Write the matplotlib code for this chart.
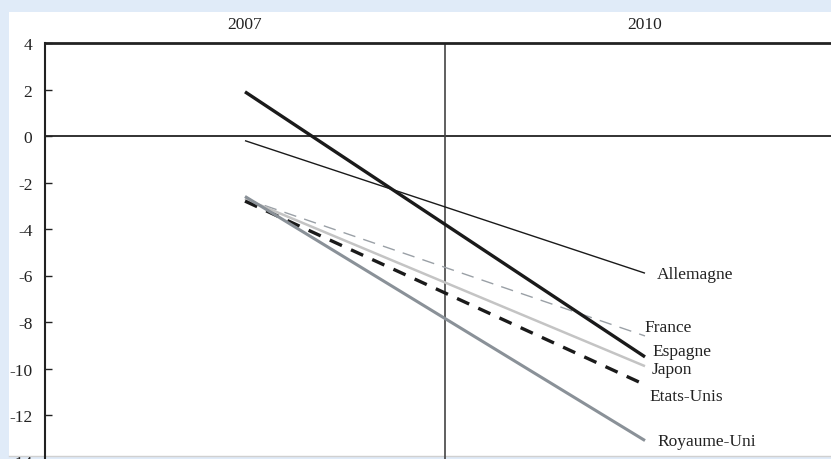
import matplotlib
matplotlib.use("Agg")
import matplotlib.pyplot as plt
from matplotlib.patches import Rectangle
from matplotlib.lines import Line2D

# ---- data ----
years = [2007, 2010]
countries = ["Allemagne", "France", "Espagne", "Japon", "Etats-Unis", "Royaume-Uni"]
allemagne = [-0.2, -5.9]
france = [-2.7, -8.6]
espagne = [1.9, -9.5]
japon = [-2.7, -9.9]
etats_unis = [-2.8, -10.7]
royaume_uni = [-2.6, -13.1]
yticks = [4, 2, 0, -2, -4, -6, -8, -10, -12, -14]
xtick_labels = ["2007", "2010"]

series = [allemagne, france, espagne, japon, etats_unis, royaume_uni]

styles = {
    "Allemagne": dict(color="#1a1a1a", lw=1.0, ls="-"),
    "France": dict(color="#9aa0a6", lw=1.0, ls=(0, (9, 6))),
    "Espagne": dict(color="#1a1a1a", lw=2.4, ls="-"),
    "Japon": dict(color="#c4c4c4", lw=1.8, ls="-"),
    "Etats-Unis": dict(color="#1a1a1a", lw=2.4, ls=(0, (4, 3))),
    "Royaume-Uni": dict(color="#8a9198", lw=2.2, ls="-"),
}
label_offsets = {
    "Allemagne": (12, -1),
    "France": (-1, 9),
    "Espagne": (7, 6),
    "Japon": (7, -3),
    "Etats-Unis": (4, -11),
    "Royaume-Uni": (12, 0),
}

W, H = 831, 460
fig = plt.figure(figsize=(W / 100, H / 100), dpi=100)
fig.patch.set_facecolor("#e0ebf8")
fig.patches.append(Rectangle((9 / W, 3 / H), 1, (H - 13 - 3) / H, transform=fig.transFigure,
                             facecolor="white", edgecolor="none", zorder=-10))
fig.lines.append(Line2D([9 / W, 1], [3 / H, 3 / H], transform=fig.transFigure, color="#d0d0d0",
                        lw=1, zorder=-9))

ax = fig.add_axes([45 / W, -2.5 / H, 800 / W, (H + 2.5 - 44) / H])
ax.set_facecolor("none")
ax.set_xlim(2005.5, 2011.5)
ax.set_ylim(-14, 4)

serif = ["Liberation Serif", "DejaVu Serif"]

for name, vals in zip(countries, series):
    st = styles[name]
    ax.plot(years, vals, color=st["color"], lw=st["lw"], linestyle=st["ls"], solid_capstyle="butt", zorder=3)
    dx, dy = label_offsets[name]
    ax.annotate(name, xy=(years[-1], vals[-1]), xytext=(dx, dy), textcoords="offset pixels",
                ha="left", va="center", fontsize=12.5, family=serif, color="#222222")

ax.axhline(0, color="#222222", lw=1.3, zorder=2)
ax.axvline((years[0] + years[1]) / 2, color="#444444", lw=1.2, zorder=2)

for s in ["right", "bottom"]:
    ax.spines[s].set_visible(False)
ax.spines["left"].set_linewidth(1.5)
ax.spines["left"].set_color("#222222")
ax.spines["top"].set_linewidth(2.0)
ax.spines["top"].set_color("#222222")

ax.set_yticks(yticks)
ax.set_yticklabels([str(t) for t in yticks], family=serif, fontsize=12.5, color="#222222")
ax.tick_params(axis="y", direction="in", length=5, width=1, pad=9, color="#222222")

ax.xaxis.tick_top()
ax.set_xticks(years)
ax.set_xticklabels(xtick_labels, family=serif, fontsize=12.5, color="#222222")
ax.tick_params(axis="x", length=0, pad=8)

fig.savefig("out.png", dpi=100, facecolor=fig.get_facecolor())
